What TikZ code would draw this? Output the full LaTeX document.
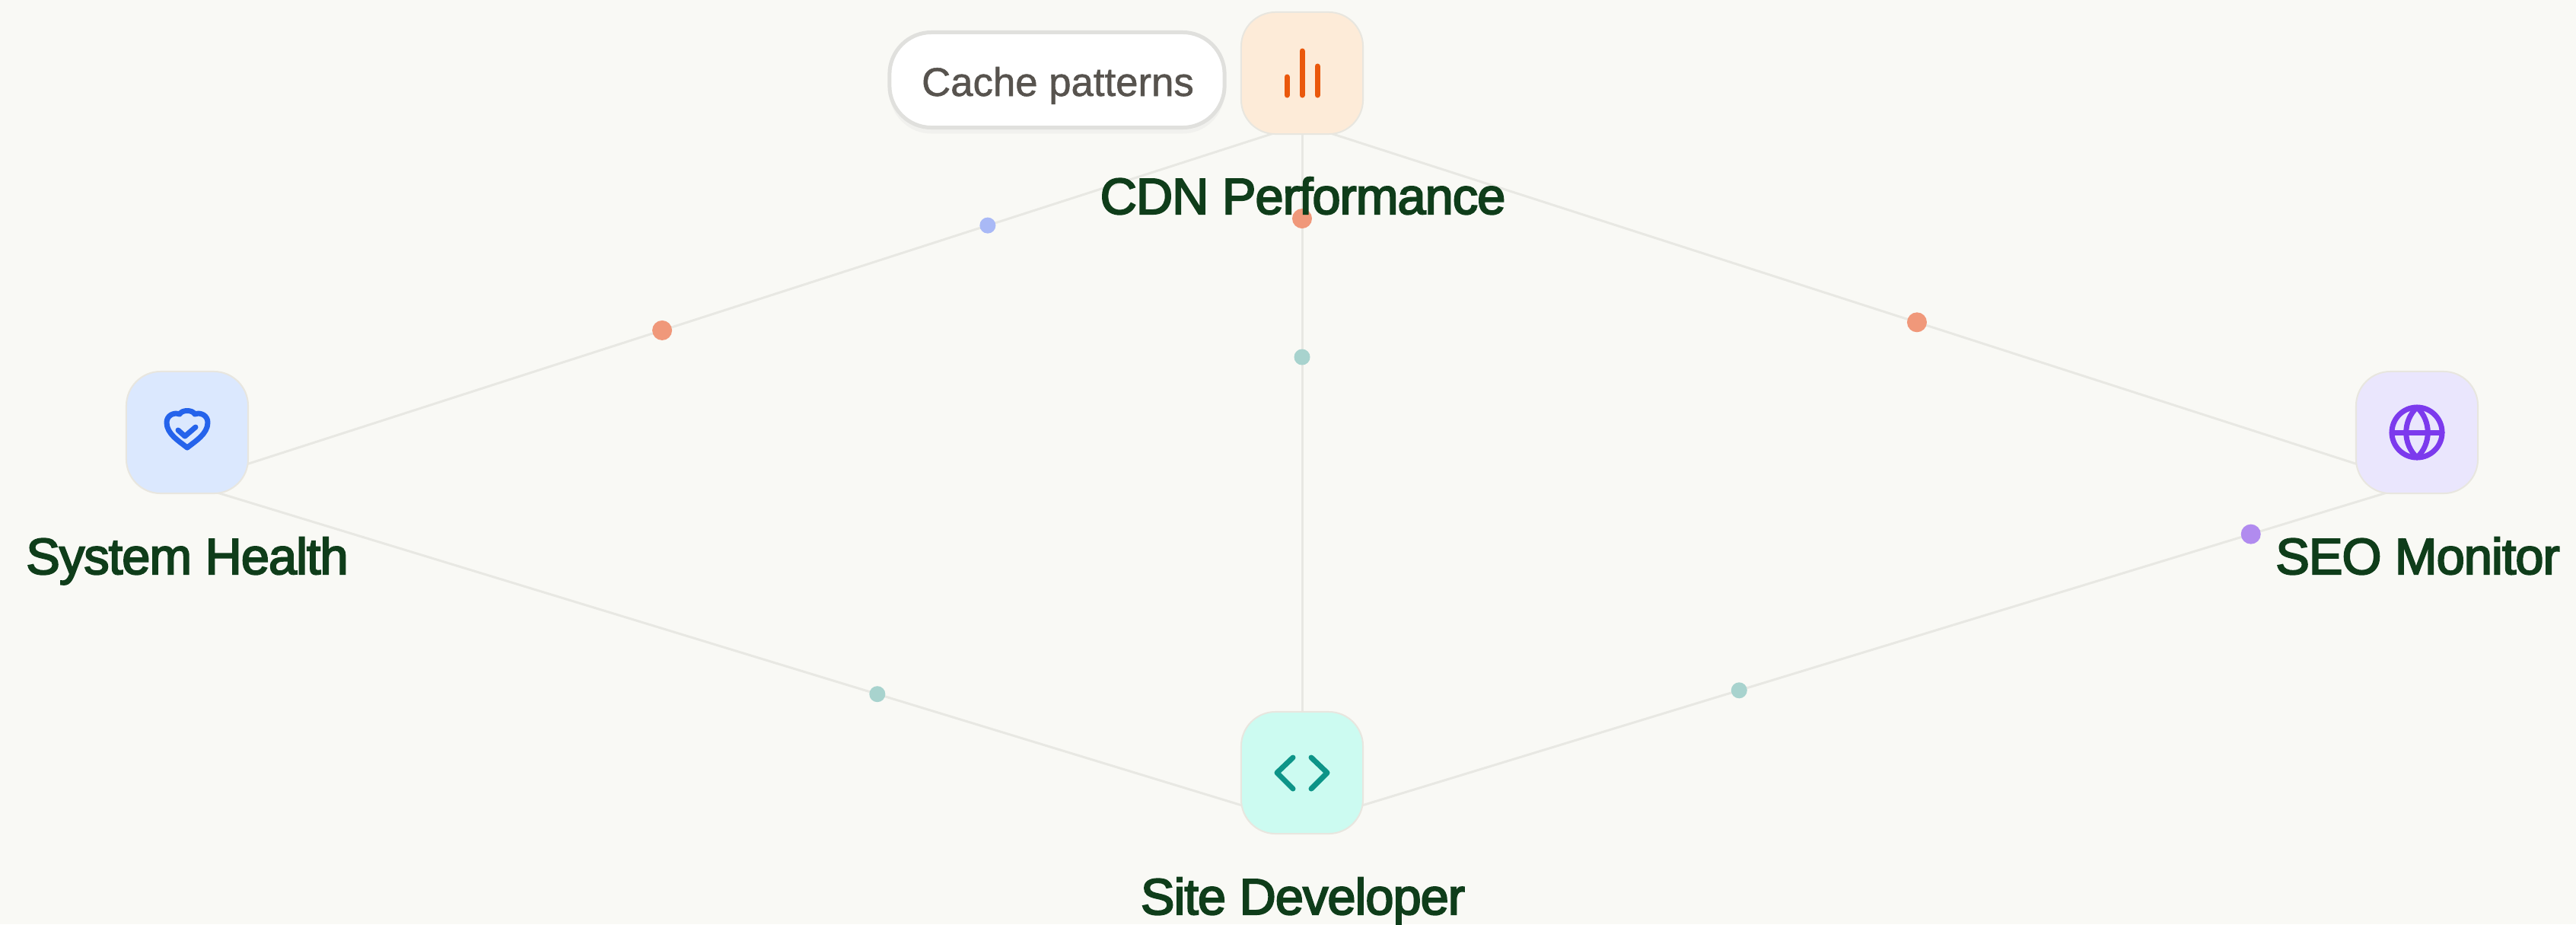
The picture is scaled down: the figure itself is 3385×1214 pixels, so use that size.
\documentclass[tikz,border=0pt]{standalone}
\usepackage{fontspec}
\setmainfont{Liberation Sans}
\newfontfamily\namefont[LetterSpace=-1.5,FakeBold=3]{Liberation Sans}
\newfontfamily\tipfont[FakeBold=1]{Liberation Sans}
\usetikzlibrary{shapes,arrows,positioning,shadows}
\definecolor{pagebg}{HTML}{F9F9F5}
\definecolor{linkgray}{HTML}{E8E8E3}
\definecolor{rimgray}{HTML}{E8E6DF}
\definecolor{tiprim}{HTML}{E0E0DD}
\definecolor{namegreen}{HTML}{0F3D1A}
\definecolor{pilltext}{HTML}{57534E}
\definecolor{orangebox}{HTML}{FDEBD8}
\definecolor{bluebox}{HTML}{DBE8FE}
\definecolor{violetbox}{HTML}{EAE6FD}
\definecolor{tealbox}{HTML}{CCFBF1}
\definecolor{orangeink}{HTML}{EA580C}
\definecolor{blueink}{HTML}{2563EB}
\definecolor{violetink}{HTML}{7C3AED}
\definecolor{tealink}{HTML}{0D9488}
\definecolor{orangedot}{HTML}{F0987A}
\definecolor{bluedot}{HTML}{A9B9F6}
\definecolor{tealdot}{HTML}{A8D3CE}
\definecolor{violetdot}{HTML}{B18BEF}
\tikzset{
  link/.style={draw=linkgray, line width=0.03cm},
  smalldot/.style={circle, inner sep=0pt, minimum size=0.21cm},
  bigdot/.style={circle, inner sep=0pt, minimum size=0.26cm},
  iconbox/.style={draw=rimgray, line width=0.02cm, rounded corners=0.45cm, minimum size=1.6cm, inner sep=0pt},
  nodename/.style={anchor=base, text=namegreen, inner sep=0pt, font=\namefont\fontsize{19}{23}\selectfont},
  tip/.style={draw=tiprim, line width=0.05cm, fill=white, rounded corners=0.55cm, minimum width=4.4cm, minimum height=1.25cm, inner sep=0pt},
  tipshadow/.style={drop shadow={opacity=0.06, shadow xshift=0cm, shadow yshift=-0.08cm}},
  tipname/.style={anchor=base, inner sep=0pt, text=pilltext, font=\tipfont\fontsize{15}{18}\selectfont},
  glyph/.style={line width=0.07cm, line cap=round, line join=round}
}

\begin{document}
\begin{tikzpicture}[x=0.01cm, y=-0.01cm]
\fill[pagebg] (0,0) rectangle (3385,1214);
\useasboundingbox (0,0) rectangle (3385,1214);

\coordinate (cdnhub) at (1711,163);
\coordinate (healthhub) at (246,635);
\coordinate (seohub) at (3176,635);
\coordinate (devhub) at (1711,1082);

\draw[link] (healthhub) -- (cdnhub)
  node[bigdot, fill=orangedot, pos=0.426] (dotA) {}
  node[smalldot, fill=bluedot, pos=0.718] (dotB) {};
\draw[link] (cdnhub) -- (seohub)
  node[bigdot, fill=orangedot, pos=0.5515] (dotC) {};
\draw[link] (cdnhub) -- (devhub)
  node[bigdot, fill=orangedot, pos=0.135] (dotD) {}
  node[smalldot, fill=tealdot, pos=0.333] (dotE) {};
\draw[link] (healthhub) -- (devhub)
  node[smalldot, fill=tealdot, pos=0.619] (dotF) {};
\draw[link] (devhub) -- (seohub)
  node[smalldot, fill=tealdot, pos=0.392] (dotG) {}
  node[bigdot, fill=violetdot, pos=0.851] (dotH) {};

\node[iconbox, fill=orangebox] (cdn) at (1711,96) {};
\node[iconbox, fill=bluebox] (health) at (246,568) {};
\node[iconbox, fill=violetbox] (seo) at (3176,568) {};
\node[iconbox, fill=tealbox] (dev) at (1711,1015) {};

\begin{scope}[shift={(1711,96)}]
\draw[glyph, orangeink] (-20,29) -- (-20,5);
\draw[glyph, orangeink] (0,29) -- (0,-29);
\draw[glyph, orangeink] (20,29) -- (20,-9);
\end{scope}
\begin{scope}[shift={(246,568)}]
\draw[glyph, blueink] (0,20) .. controls (-10,12) and (-27,2) .. (-27,-13) .. controls (-27,-22) and (-18,-27) .. (-10,-24) .. controls (-7,-30) and (7,-30) .. (10,-24) .. controls (18,-27) and (27,-22) .. (27,-13) .. controls (27,2) and (10,12) .. (0,20) -- cycle;
\draw[glyph, blueink] (-12,-3) -- (-3,5) -- (11,-7);
\end{scope}
\begin{scope}[shift={(3176,568)}]
\draw[glyph, violetink] (0,0) circle (33);
\draw[glyph, violetink] (-33,0) -- (33,0);
\draw[glyph, violetink] (0,-33) .. controls (-19,-15) and (-19,15) .. (0,33) .. controls (19,15) and (19,-15) .. (0,-33) -- cycle;
\end{scope}
\begin{scope}[shift={(1711,1015)}]
\draw[glyph, tealink] (-12,-20) -- (-33,0) -- (-12,21);
\draw[glyph, tealink] (12,-20) -- (33,0) -- (12,21);
\end{scope}

\node[nodename] (cdnname) at (1712,281) {CDN Performance};
\node[nodename] (healthname) at (246,754) {System Health};
\node[nodename] (seoname) at (3177,754) {SEO Monitor};
\node[nodename] (devname) at (1712,1201) {Site Developer};

\node[tip, tipshadow] (cachetip) at (1389,105) {};
\node[tipname] (cachename) at (1390,126) {Cache patterns};
\end{tikzpicture}
\end{document}
